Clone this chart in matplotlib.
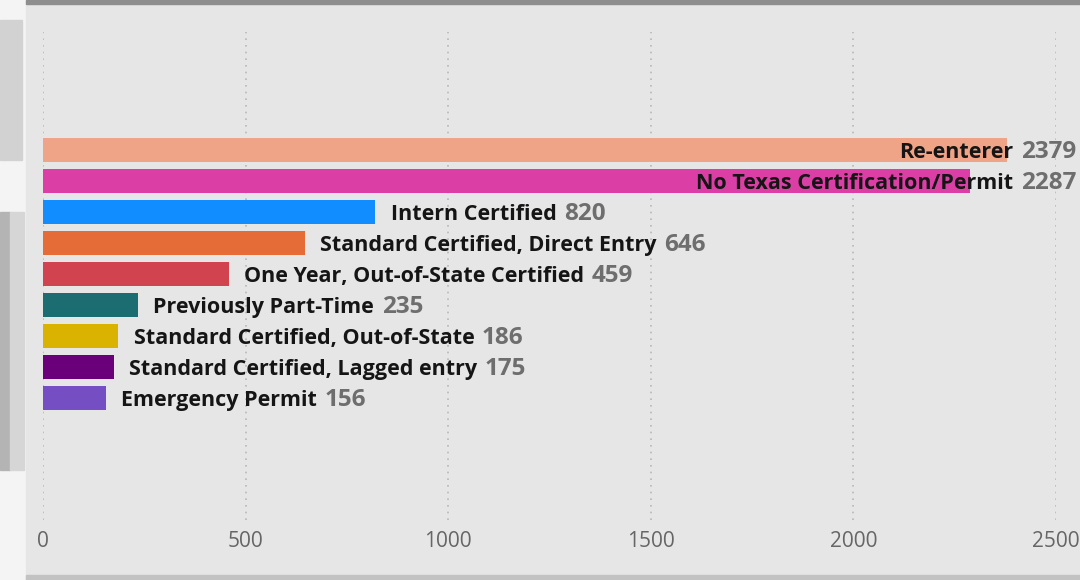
import numpy as np
import matplotlib.pyplot as plt
from matplotlib.patches import Rectangle

# data, top to bottom
categories = ["Re-enterer", "No Texas Certification/Permit", "Intern Certified",
              "Standard Certified, Direct Entry", "One Year, Out-of-State Certified",
              "Previously Part-Time", "Standard Certified, Out-of-State",
              "Standard Certified, Lagged entry", "Emergency Permit"]
values = [2379, 2287, 820, 646, 459, 235, 186, 175, 156]
colors = ["#f0a487", "#db3fa6", "#118dff", "#e66c37", "#d0434f",
          "#1b6d72", "#d9b300", "#6b007b", "#744ec2"]
ticks = [0, 500, 1000, 1500, 2000, 2500]

W, H, DPI = 1080, 580, 100
fig = plt.figure(figsize=(W / DPI, H / DPI), dpi=DPI, facecolor="white")

# card background, borders and the shadow on the left
def px_rect(x0, y0, x1, y1, color):
    fig.patches.append(Rectangle((x0 / W, 1 - y1 / H), (x1 - x0) / W, (y1 - y0) / H,
                                 transform=fig.transFigure, color=color, zorder=-5))

px_rect(0, 0, 26, 580, "#f4f4f4")
px_rect(0, 20, 22, 160, "#d2d2d2")
px_rect(0, 212, 10, 470, "#b4b4b4")
px_rect(10, 212, 24, 470, "#d6d6d6")
px_rect(26, 0, W, 580, "#e6e6e6")
px_rect(26, 0, W, 4, "#8e8e8e")
px_rect(26, 575, W, 580, "#c2c2c2")

x0_px, x1_px = 43, 1056
y_top, y_bot = 32, 520
ax = fig.add_axes([x0_px / W, 1 - y_bot / H, (x1_px - x0_px) / W, (y_bot - y_top) / H])
ax.set_zorder(2)
ax.set_facecolor("none")

pos = np.arange(len(values))
ax.barh(pos, values, height=0.78, color=colors, zorder=2)
ax.set_xlim(0, 2500)
ax.set_ylim(11.94, -3.8)

ax.set_xticks(ticks)
ax.set_xticklabels([str(t) for t in ticks])
ax.tick_params(axis="x", length=0, pad=8, labelsize=15, labelcolor="#666666")
ax.tick_params(axis="y", left=False, labelleft=False)
for lab in ax.get_xticklabels():
    lab.set_fontfamily("Open Sans")
ax.grid(axis="x", color="#b8b8b8", linestyle=(0, (1, 3)), linewidth=1.2, zorder=1)
for s in ax.spines.values():
    s.set_visible(False)

font = "Open Sans"
dy = -5.8  # baseline sits a little below the bar centre
pairs = []
for i, (name, v) in enumerate(zip(categories, values)):
    nt = ax.annotate(name, xy=(v, i), xytext=(11, dy), textcoords="offset points",
                     ha="left", va="baseline", fontsize=15.5, fontweight="bold",
                     family=font, color="#151515", zorder=3, annotation_clip=False)
    vt = ax.annotate(str(v), xy=(1, i), xycoords=(nt, "data"), xytext=(5.5, dy),
                     textcoords="offset points", ha="left", va="baseline",
                     fontsize=17.5, fontweight="bold", family=font,
                     color="#6e6e6e", zorder=3, annotation_clip=False)
    pairs.append((nt, vt))

# keep the labels of long bars inside the card
fig.canvas.draw()
r = fig.canvas.get_renderer()
limit = 1076
for nt, vt in pairs:
    over = vt.get_window_extent(r).x1 - limit
    if over > 0:
        nt.xyann = (11 - over * 72 / DPI, dy)

fig.savefig("out.png", dpi=DPI, facecolor=fig.get_facecolor())
